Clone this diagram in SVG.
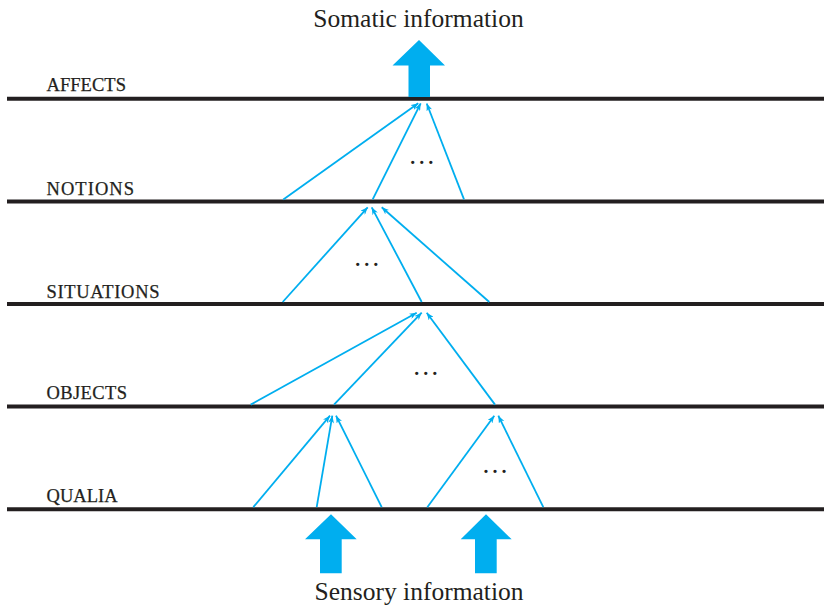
<svg xmlns="http://www.w3.org/2000/svg" width="824" height="610" viewBox="0 0 824 610">
<defs>
<marker id="ah" viewBox="0 0 10 8" refX="10" refY="4" markerWidth="7.5" markerHeight="6" markerUnits="userSpaceOnUse" orient="auto">
<path d="M0,0 L10,4 L0,8 L3,4 z" fill="#00aeef"/>
</marker>
</defs>
<style>
.lvl{stroke:#231f20;stroke-width:4;fill:none}
.lab{font-family:"Liberation Serif",serif;font-size:18.5px;fill:#231f20;stroke:#231f20;stroke-width:0.25}
.big{font-family:"Liberation Serif",serif;font-size:25.5px;fill:#231f20;text-anchor:middle}
.dots{font-family:"Liberation Serif",serif;font-size:27px;fill:#231f20;text-anchor:middle}
.fat{fill:#00aeef}
.con{stroke:#00aeef;stroke-width:1.8;fill:none;marker-end:url(#ah)}
</style>
<rect width="824" height="610" fill="#ffffff"/>

<g id="affects">
<line class="lvl" x1="7" y1="98.8" x2="824" y2="98.8"/>
<text class="lab" x="46.5" y="90.5" textLength="79.5" lengthAdjust="spacing">AFFECTS</text>
</g>
<g id="notions">
<line class="lvl" x1="7" y1="201.4" x2="824" y2="201.4"/>
<text class="lab" x="46.5" y="194.7" textLength="87.5" lengthAdjust="spacing">NOTIONS</text>
</g>
<g id="situations">
<line class="lvl" x1="7" y1="304" x2="824" y2="304"/>
<text class="lab" x="46.5" y="297.5" textLength="113" lengthAdjust="spacing">SITUATIONS</text>
</g>
<g id="objects">
<line class="lvl" x1="7" y1="406.6" x2="824" y2="406.6"/>
<text class="lab" x="46.5" y="399.3" textLength="80.5" lengthAdjust="spacing">OBJECTS</text>
</g>
<g id="qualia">
<line class="lvl" x1="7" y1="509.2" x2="824" y2="509.2"/>
<text class="lab" x="46.5" y="502" textLength="71" lengthAdjust="spacing">QUALIA</text>
</g>

<g id="somatic">
<polygon class="fat" points="419,40 445,65.5 430,65.5 430,97 408.5,97 408.5,65.5 392.5,65.5"/>
<text class="big" x="418.5" y="27">Somatic information</text>
</g>
<g id="sensory">
<polygon class="fat" points="331,514.3 356.7,539.3 341.7,539.3 341.7,573.3 320,573.3 320,539.3 305,539.3"/>
<polygon class="fat" points="486,514.3 511.7,539.3 496.7,539.3 496.7,573.3 475,573.3 475,539.3 460.7,539.3"/>
<text class="big" x="419" y="599.5">Sensory information</text>
</g>

<g id="connectors">
<line class="con" x1="283.3" y1="199.4" x2="418.3" y2="103.3"/>
<line class="con" x1="372.7" y1="199.4" x2="420.7" y2="103.3"/>
<line class="con" x1="464" y1="199.4" x2="426.7" y2="103.5"/>

<line class="con" x1="282.7" y1="302" x2="367.7" y2="207.3"/>
<line class="con" x1="421.7" y1="302" x2="371.7" y2="207.3"/>
<line class="con" x1="489.3" y1="302" x2="381.7" y2="207.3"/>

<line class="con" x1="250.7" y1="404.6" x2="416.7" y2="312.7"/>
<line class="con" x1="334" y1="404.6" x2="421.7" y2="312.7"/>
<line class="con" x1="495" y1="404.6" x2="426.7" y2="312.7"/>

<line class="con" x1="253.3" y1="507.2" x2="330" y2="415.7"/>
<line class="con" x1="316.7" y1="507.2" x2="332.3" y2="415.7"/>
<line class="con" x1="381.7" y1="507.2" x2="336" y2="415.7"/>
<line class="con" x1="427.3" y1="507.2" x2="494.3" y2="415.7"/>
<line class="con" x1="543.3" y1="507.2" x2="498.3" y2="415.7"/>
</g>

<g id="ellipses">
<text class="dots" x="421.7" y="163.7">…</text>
<text class="dots" x="366.7" y="266.4">…</text>
<text class="dots" x="425.7" y="374.7">…</text>
<text class="dots" x="495" y="473.1">…</text>
</g>
</svg>
